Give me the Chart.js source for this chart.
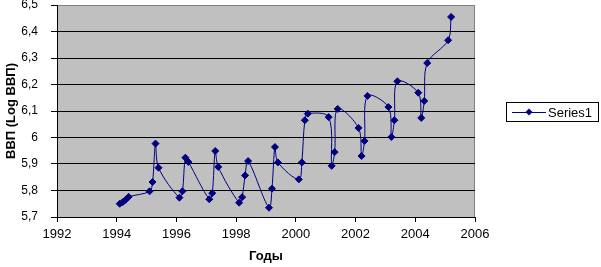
<!DOCTYPE html>
<html lang="ru">
<head>
    <meta charset="UTF-8">
    <title>ВВП (Log ВВП)</title>
    <script src="https://cdn.jsdelivr.net/npm/chart.js"></script>
    <style>
        body { margin: 0; background: #fff; }
        canvas { display: block; }
    </style>
</head>
<body>
    <canvas id="chart" width="601" height="267"></canvas>
    <script>
        // quarters written as year + q/10, as on the chart
        var years = [
            1994.1, 1994.2, 1994.3, 1994.4,
            1995.1, 1995.2, 1995.3, 1995.4,
            1996.1, 1996.2, 1996.3, 1996.4,
            1997.1, 1997.2, 1997.3, 1997.4,
            1998.1, 1998.2, 1998.3, 1998.4,
            1999.1, 1999.2, 1999.3, 1999.4,
            2000.1, 2000.2, 2000.3, 2000.4,
            2001.1, 2001.2, 2001.3, 2001.4,
            2002.1, 2002.2, 2002.3, 2002.4,
            2003.1, 2003.2, 2003.3, 2003.4,
            2004.1, 2004.2, 2004.3, 2004.4,
            2005.1, 2005.2
        ];
        var logGdp = [
            5.750, 5.756, 5.765, 5.776,
            5.797, 5.832, 5.977, 5.886,
            5.773, 5.797, 5.924, 5.908,
            5.767, 5.790, 5.949, 5.889,
            5.754, 5.775, 5.857, 5.911,
            5.735, 5.807, 5.964, 5.906,
            5.842, 5.906, 6.065, 6.090,
            6.077, 5.893, 5.945, 6.108,
            6.036, 5.930, 5.987, 6.157,
            6.115, 6.002, 6.065, 6.212,
            6.169, 6.074, 6.138, 6.281,
            6.367, 6.455
        ];
        var seriesName = 'Series1';
        var xTitle = 'Годы';
        var yTitle = 'ВВП (Log ВВП)';

        var points = years.map(function(x, i) { return {x: x, y: logGdp[i]}; });

        var font = 'Liberation Sans, Arial, sans-serif';
        var navy = '#000080';

        // grey plot area like Excel
        var plotBg = {
            id: 'plotBg',
            beforeDraw: function(chart) {
                var a = chart.chartArea, c = chart.ctx;
                c.save();
                c.fillStyle = '#c0c0c0';
                c.fillRect(a.left, a.top, a.right - a.left, a.bottom - a.top);
                c.strokeStyle = '#808080';
                c.lineWidth = 1;
                c.strokeRect(a.left + 0.5, a.top + 0.5, a.right - a.left - 1, a.bottom - a.top);
                c.restore();
            }
        };

        // boxed legend at the right
        var boxLegend = {
            id: 'boxLegend',
            afterDraw: function(chart) {
                var c = chart.ctx;
                var y = 112;
                c.save();
                c.strokeStyle = '#000';
                c.lineWidth = 1;
                c.strokeRect(506.5, 102.5, 92, 19);
                c.strokeStyle = navy;
                c.beginPath();
                c.moveTo(512, y + 0.5);
                c.lineTo(546, y + 0.5);
                c.stroke();
                c.fillStyle = navy;
                c.beginPath();
                c.moveTo(529, y - 3.5);
                c.lineTo(532.5, y);
                c.lineTo(529, y + 3.5);
                c.lineTo(525.5, y);
                c.closePath();
                c.fill();
                c.fillStyle = '#000';
                c.font = '13px ' + font;
                c.textBaseline = 'middle';
                c.fillText(seriesName, 548, y + 1);
                c.restore();
            }
        };

        var ctx = document.getElementById('chart').getContext('2d');
        var chart = new Chart(ctx, {
            type: 'scatter',
            data: {
                datasets: [{
                    label: seriesName,
                    data: points,
                    showLine: true,
                    borderColor: navy,
                    borderWidth: 1,
                    tension: 0.33,
                    pointStyle: 'rectRot',
                    pointRadius: 3.5,
                    pointBorderWidth: 1,
                    pointBackgroundColor: navy,
                    pointBorderColor: navy
                }]
            },
            options: {
                responsive: false,
                animation: false,
                devicePixelRatio: 1,
                layout: { padding: { top: 5, right: 126, bottom: 0, left: 0 } },
                plugins: {
                    legend: { display: false },
                    tooltip: { enabled: false }
                },
                scales: {
                    x: {
                        type: 'linear',
                        min: 1992,
                        max: 2006,
                        afterFit: function(s) { s.height = 50; s.paddingLeft = 0; s.paddingRight = 0; },
                        ticks: {
                            stepSize: 2,
                            color: '#000',
                            padding: 5,
                            maxRotation: 0,
                            font: { family: font, size: 13 },
                            callback: function(v) { return String(v); }
                        },
                        grid: {
                            drawOnChartArea: false,
                            drawTicks: true,
                            tickLength: 5,
                            color: '#000',
                            tickColor: '#000'
                        },
                        border: { display: true, color: '#000', width: 1 },
                        title: {
                            display: true,
                            text: xTitle,
                            color: '#000',
                            padding: { top: 0, bottom: 3 },
                            font: { family: font, size: 13, weight: 'bold' }
                        }
                    },
                    y: {
                        min: 5.7,
                        max: 6.5,
                        afterFit: function(s) { s.width = 57; s.paddingTop = 0; s.paddingBottom = 0; },
                        ticks: {
                            stepSize: 0.1,
                            color: '#000',
                            padding: 13,
                            font: { family: font, size: 12 },
                            callback: function(v) {
                                return String(Math.round(v * 10) / 10).replace('.', ',');
                            }
                        },
                        grid: {
                            drawTicks: true,
                            tickLength: 6,
                            color: function(c) {
                                return c.tick && Math.abs(c.tick.value - 6.5) < 1e-6 ? 'rgba(0,0,0,0)' : '#000';
                            },
                            tickColor: '#000'
                        },
                        border: { display: true, color: '#000', width: 1 },
                        title: {
                            display: true,
                            text: yTitle,
                            color: '#000',
                            padding: { top: 4, bottom: 0 },
                            font: { family: font, size: 13, weight: 'bold' }
                        }
                    }
                }
            },
            plugins: [plotBg, boxLegend]
        });
    </script>
</body>
</html>
